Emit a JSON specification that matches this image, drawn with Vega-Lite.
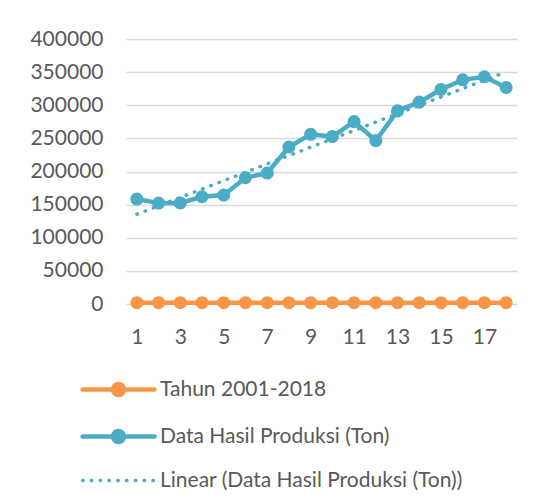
{
  "$schema": "https://vega.github.io/schema/vega-lite/v6.json",
  "autosize": "none",
  "width": 391,
  "height": 265,
  "padding": {"left": 126, "top": 39, "right": 27, "bottom": 200},
  "background": "white",
  "config": {
    "view": {"stroke": null},
    "font": "Lato",
    "axis": {"labelFont": "Lato", "labelFontSize": 21, "labelColor": "#595959", "title": null},
    "legend": {"labelFont": "Lato", "labelFontSize": 21, "labelColor": "#595959", "labelLimit": 0}
  },
  "data": {
    "values": [
      {"x": 1, "series": "Tahun 2001-2018", "value": 2001},
      {"x": 2, "series": "Tahun 2001-2018", "value": 2002},
      {"x": 3, "series": "Tahun 2001-2018", "value": 2003},
      {"x": 4, "series": "Tahun 2001-2018", "value": 2004},
      {"x": 5, "series": "Tahun 2001-2018", "value": 2005},
      {"x": 6, "series": "Tahun 2001-2018", "value": 2006},
      {"x": 7, "series": "Tahun 2001-2018", "value": 2007},
      {"x": 8, "series": "Tahun 2001-2018", "value": 2008},
      {"x": 9, "series": "Tahun 2001-2018", "value": 2009},
      {"x": 10, "series": "Tahun 2001-2018", "value": 2010},
      {"x": 11, "series": "Tahun 2001-2018", "value": 2011},
      {"x": 12, "series": "Tahun 2001-2018", "value": 2012},
      {"x": 13, "series": "Tahun 2001-2018", "value": 2013},
      {"x": 14, "series": "Tahun 2001-2018", "value": 2014},
      {"x": 15, "series": "Tahun 2001-2018", "value": 2015},
      {"x": 16, "series": "Tahun 2001-2018", "value": 2016},
      {"x": 17, "series": "Tahun 2001-2018", "value": 2017},
      {"x": 18, "series": "Tahun 2001-2018", "value": 2018},
      {"x": 1, "series": "Data Hasil Produksi (Ton)", "value": 158400},
      {"x": 2, "series": "Data Hasil Produksi (Ton)", "value": 152300},
      {"x": 3, "series": "Data Hasil Produksi (Ton)", "value": 152500},
      {"x": 4, "series": "Data Hasil Produksi (Ton)", "value": 161900},
      {"x": 5, "series": "Data Hasil Produksi (Ton)", "value": 164400},
      {"x": 6, "series": "Data Hasil Produksi (Ton)", "value": 190600},
      {"x": 7, "series": "Data Hasil Produksi (Ton)", "value": 197700},
      {"x": 8, "series": "Data Hasil Produksi (Ton)", "value": 237000},
      {"x": 9, "series": "Data Hasil Produksi (Ton)", "value": 256200},
      {"x": 10, "series": "Data Hasil Produksi (Ton)", "value": 252700},
      {"x": 11, "series": "Data Hasil Produksi (Ton)", "value": 275300},
      {"x": 12, "series": "Data Hasil Produksi (Ton)", "value": 246600},
      {"x": 13, "series": "Data Hasil Produksi (Ton)", "value": 291500},
      {"x": 14, "series": "Data Hasil Produksi (Ton)", "value": 304700},
      {"x": 15, "series": "Data Hasil Produksi (Ton)", "value": 323800},
      {"x": 16, "series": "Data Hasil Produksi (Ton)", "value": 338400},
      {"x": 17, "series": "Data Hasil Produksi (Ton)", "value": 343000},
      {"x": 18, "series": "Data Hasil Produksi (Ton)", "value": 326800}
    ]
  },
  "encoding": {
    "x": {
      "field": "x",
      "type": "quantitative",
      "scale": {"domain": [0.5, 18.5], "nice": false, "zero": false},
      "axis": {
        "values": [1, 3, 5, 7, 9, 11, 13, 15, 17],
        "grid": false,
        "ticks": false,
        "domain": false,
        "labelPadding": 22,
        "labelFlush": false
      }
    },
    "y": {
      "field": "value",
      "type": "quantitative",
      "scale": {"domain": [0, 400000], "nice": false},
      "axis": {
        "values": [0, 50000, 100000, 150000, 200000, 250000, 300000, 350000, 400000],
        "format": "d",
        "grid": true,
        "gridColor": "#d9d9d9",
        "gridWidth": 1.3,
        "ticks": false,
        "domain": false,
        "labelPadding": 23
      }
    },
    "color": {
      "field": "series",
      "type": "nominal",
      "scale": {
        "domain": ["Tahun 2001-2018", "Data Hasil Produksi (Ton)", "Linear (Data Hasil Produksi (Ton))"],
        "range": ["#f79646", "#4bacc6", "#4bacc6"]
      },
      "legend": {
        "title": null,
        "orient": "none",
        "legendX": -45,
        "legendY": 340,
        "direction": "vertical",
        "rowPadding": 18,
        "symbolSize": 324,
        "labelOffset": 58,
        "labelLimit": 0,
        "encode": {
          "symbols": {
            "update": {
              "shape": {"signal": "datum.value === 'Linear (Data Hasil Produksi (Ton))' ? 'M-1,0H7' : 'M-1,0H7M2.4,0A0.6,0.6 0 1,1 3.6,0A0.6,0.6 0 1,1 2.4,0Z'"},
              "strokeDash": {"signal": "datum.value === 'Linear (Data Hasil Produksi (Ton))' ? [0.5, 8.3] : [1, 0]"},
              "strokeWidth": {"signal": "datum.value === 'Linear (Data Hasil Produksi (Ton))' ? 3.5 : 4.5"},
              "strokeCap": {"value": "round"},
              "fill": {"signal": "datum.value === 'Linear (Data Hasil Produksi (Ton))' ? 'transparent' : scale('color', datum.value)"},
              "stroke": {"scale": "color", "field": "value"},
              "fillOpacity": {"value": 1},
              "strokeOpacity": {"value": 1},
              "opacity": {"value": 1}
            }
          }
        }
      }
    }
  },
  "layer": [
    {
      "mark": {"type": "line", "strokeWidth": 4.5}
    },
    {
      "mark": {"type": "point", "filled": true, "size": 170, "opacity": 1, "shape": "circle"}
    },
    {
      "transform": [
        {"filter": "datum.series === 'Data Hasil Produksi (Ton)'"},
        {"regression": "value", "on": "x", "method": "linear", "extent": [1, 18]}
      ],
      "mark": {"type": "line", "strokeWidth": 3.5, "strokeDash": [0.5, 8.3], "strokeCap": "round"},
      "encoding": {
        "color": {"datum": "Linear (Data Hasil Produksi (Ton))"}
      }
    }
  ]
}
